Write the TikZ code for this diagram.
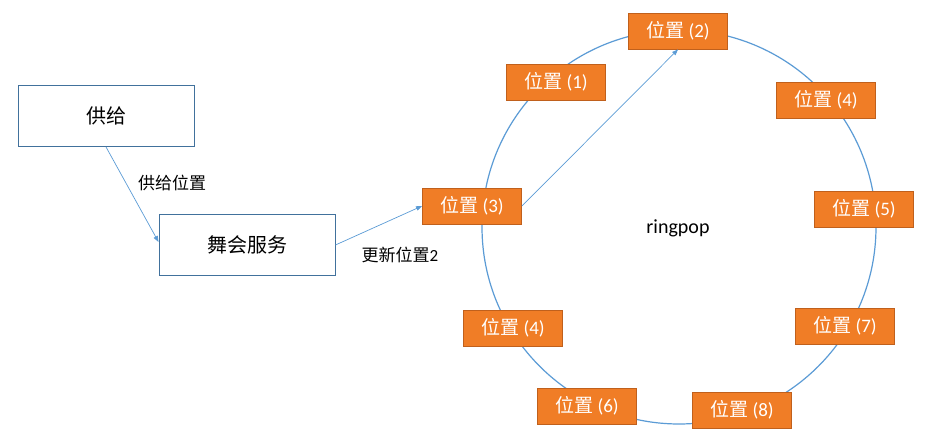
\documentclass[tikz,border=0pt]{standalone}
\usepackage{fontspec}
\setmainfont{Carlito}
\newfontfamily\cjk{Noto Sans CJK SC}
\usetikzlibrary{arrows.meta}
\definecolor{orfill}{HTML}{F07D26}
\definecolor{ordraw}{HTML}{C0601C}
\definecolor{bline}{HTML}{5B9BD5}
\definecolor{bdraw}{HTML}{41719C}
\tikzset{
  posbox/.style={draw=ordraw, line width=0.9pt, fill=orfill, text=white, minimum width=99pt, minimum height=36pt, inner sep=0pt, font=\fontsize{19}{21}\selectfont},
  wbox/.style={draw=bdraw, line width=0.9pt, fill=white, minimum width=176pt, minimum height=61pt, inner sep=0pt, font=\fontsize{20}{22}\selectfont\cjk},
  conn/.style={draw=bline, line width=0.7pt, -{Triangle[length=6pt,width=4.5pt]}},
  lbl/.style={inner sep=0pt, font=\fontsize{17}{19}\selectfont}
}
\begin{document}
\begin{tikzpicture}[x=1pt,y=-1pt]
\useasboundingbox (0,0) rectangle (940,443);
\coordinate (c) at (679,227);
\draw[bline, line width=1.2pt] (c) circle [radius=197pt];
\node[posbox] (n2) at (678,31) {{\cjk 位置} (2)};
\node[posbox] (n1) at (556,82) {{\cjk 位置} (1)};
\node[posbox] (n4a) at (826,100) {{\cjk 位置} (4)};
\node[posbox] (n5) at (864,209) {{\cjk 位置} (5)};
\node[posbox] (n3) at (472,206) {{\cjk 位置} (3)};
\node[posbox] (n4b) at (513,328) {{\cjk 位置} (4)};
\node[posbox] (n6) at (587,406) {{\cjk 位置} (6)};
\node[posbox] (n8) at (742,410) {{\cjk 位置} (8)};
\node[posbox] (n7) at (845,326) {{\cjk 位置} (7)};
\node[inner sep=0pt, font=\fontsize{20}{22}\selectfont] (rp) at (678,228) {ringpop};
\node[wbox] (gong) at (106,116) {供给};
\node[wbox] (wu) at (247,245) {舞会服务};
\draw[conn] (gong.south) -- ([yshift=3pt]wu.west);
\draw[conn] (wu.east) -- (n3.west);
\draw[conn] (n3.east) -- (n2.south);
\node[lbl] (l1) at (172,183) {\cjk 供给位置};
\node[lbl] (l2) at (400,255) {{\cjk 更新位置}2};
\end{tikzpicture}
\end{document}
